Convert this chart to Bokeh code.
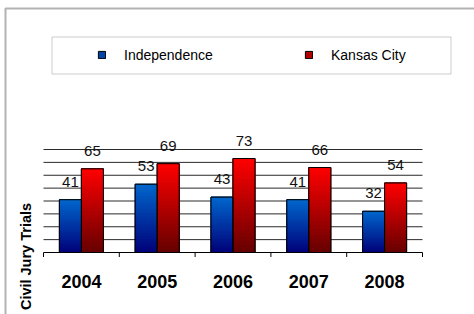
from bokeh.plotting import figure
from bokeh.models import (ColumnDataSource, Range1d, LabelSet, Label,
                          Legend, LegendItem, BoxAnnotation)
from bokeh.core.properties import value
from bokeh.embed import file_html
from bokeh.resources import INLINE

# ---- data ----
years = ["2004", "2005", "2006", "2007", "2008"]
independence = [41, 53, 43, 41, 32]
kansas_city = [65, 69, 73, 66, 54]
series_names = ["Independence", "Kansas City"]
grid_ticks = [10, 20, 30, 40, 50, 60, 70, 80]
axis_title = "Civil Jury Trials"

# ---- layout / style ----
W, H = 474, 314
PLOT_LEFT, PLOT_BASE = 43.0, 252.0      # px: left of category axis, baseline
PX_PER_CAT = 75.8                        # px per category
PX_PER_UNIT = 1.2875                     # px per data unit
BAR_W = 0.29
OFFSETS = [-0.145, 0.145]
TOP_COLORS = [(0, 102, 204), (255, 0, 0)]
BOT_COLORS = [(0, 0, 120), (100, 0, 0)]
MID_COLORS = ["#0044a6", "#b00000"]
N_BANDS = 24
TICK_PX = 4.5

x_range = Range1d(-PLOT_LEFT / PX_PER_CAT, (W - PLOT_LEFT) / PX_PER_CAT)
y_range = Range1d(-(H - PLOT_BASE) / PX_PER_UNIT, PLOT_BASE / PX_PER_UNIT)

p = figure(width=W, height=H, min_border=0, x_range=x_range, y_range=y_range,
           x_axis_type=None, y_axis_type=None,
           output_backend="svg", toolbar_location=None)
p.outline_line_color = None
p.background_fill_color = "white"
p.border_fill_color = "white"

n = len(years)
centers = [i + 0.5 for i in range(n)]
series_vals = [independence, kansas_city]

# outer border (left + top visible)
p.add_layout(BoxAnnotation(left=5, right=W + 10, bottom=-10, top=H - 8,
                           left_units="screen", right_units="screen",
                           bottom_units="screen", top_units="screen",
                           fill_color=None, fill_alpha=0, line_color="black", line_width=2))

# grid lines
p.segment(x0=[0] * len(grid_ticks), x1=[n] * len(grid_ticks), y0=grid_ticks, y1=grid_ticks,
          line_color="#2a2a2a", line_width=1)

# base (legend) renderers
base_renderers = []
for s, vals in enumerate(series_vals):
    src = ColumnDataSource(dict(x=[c + OFFSETS[s] for c in centers], top=vals))
    r = p.vbar(x="x", top="top", bottom=0, width=BAR_W, source=src,
               fill_color=MID_COLORS[s], line_color="black", line_width=1)
    base_renderers.append(r)

# gradient bands
bx, bb, bt, bc = [], [], [], []
for s, vals in enumerate(series_vals):
    for i, v in enumerate(vals):
        for k in range(N_BANDS):
            f = (k + 0.5) / N_BANDS
            col = tuple(int(round(BOT_COLORS[s][j] + (TOP_COLORS[s][j] - BOT_COLORS[s][j]) * f)) for j in range(3))
            bx.append(centers[i] + OFFSETS[s])
            bb.append(v * k / N_BANDS)
            bt.append(v * (k + 1) / N_BANDS)
            bc.append("#%02x%02x%02x" % col)
band_src = ColumnDataSource(dict(x=bx, bottom=bb, top=bt, color=bc))
p.vbar(x="x", bottom="bottom", top="top", width=BAR_W, source=band_src,
       fill_color="color", line_color="color", line_width=1)

# outlines on top
for s, vals in enumerate(series_vals):
    src = ColumnDataSource(dict(x=[c + OFFSETS[s] for c in centers], top=vals))
    p.vbar(x="x", top="top", bottom=0, width=BAR_W, source=src,
           fill_color=None, line_color="black", line_width=1)

# x axis line and boundary ticks
p.segment(x0=[0], x1=[n], y0=[0], y1=[0], line_color="black", line_width=1)
bounds = list(range(n + 1))
p.segment(x0=bounds, x1=bounds, y0=[0] * (n + 1), y1=[-TICK_PX / PX_PER_UNIT] * (n + 1),
          line_color="black", line_width=1)

# year labels
yl_src = ColumnDataSource(dict(x=centers, y=[0] * n, text=years))
p.add_layout(LabelSet(x="x", y="y", text="text", source=yl_src, y_offset=-35,
                      text_align="center", text_baseline="alphabetic",
                      text_font=value("Liberation Sans"), text_font_style="bold",
                      text_font_size="18px", text_color="black"))

# value labels
lx, ly, lt = [], [], []
for s, vals in enumerate(series_vals):
    for i, v in enumerate(vals):
        lx.append(centers[i] + OFFSETS[s])
        ly.append(v)
        lt.append(str(v))
lab_src = ColumnDataSource(dict(x=lx, y=ly, text=lt))
p.add_layout(LabelSet(x="x", y="y", text="text", source=lab_src, y_offset=13,
                      text_align="center", text_baseline="alphabetic",
                      text_font=value("Liberation Sans"), text_font_size="15px",
                      text_color="#111111"))

# axis title
p.add_layout(Label(x=25, y=H - 256, x_units="screen", y_units="screen", text=axis_title,
                   angle=90, angle_units="deg", text_align="center", text_baseline="middle",
                   text_font="Liberation Sans", text_font_style="bold", text_font_size="14.5px",
                   text_color="black"))

# legend box
p.add_layout(BoxAnnotation(left=51.5, right=450.5, bottom=H - 73.5, top=H - 36.5,
                           left_units="screen", right_units="screen",
                           bottom_units="screen", top_units="screen",
                           fill_color=None, fill_alpha=0, line_color="#555555", line_width=1))

legend = Legend(items=[LegendItem(label=series_names[s], renderers=[base_renderers[s]]) for s in range(2)],
                orientation="horizontal", location=(97, H - 62.5),
                glyph_width=9, glyph_height=9, label_standoff=18, spacing=80,
                label_width=100, label_height=9, padding=0, margin=0,
                border_line_color=None, background_fill_alpha=0,
                label_text_font="Liberation Sans", label_text_font_size="14px",
                label_text_color="black")
p.add_layout(legend)

open("out.html", "w").write(file_html(p, INLINE))
